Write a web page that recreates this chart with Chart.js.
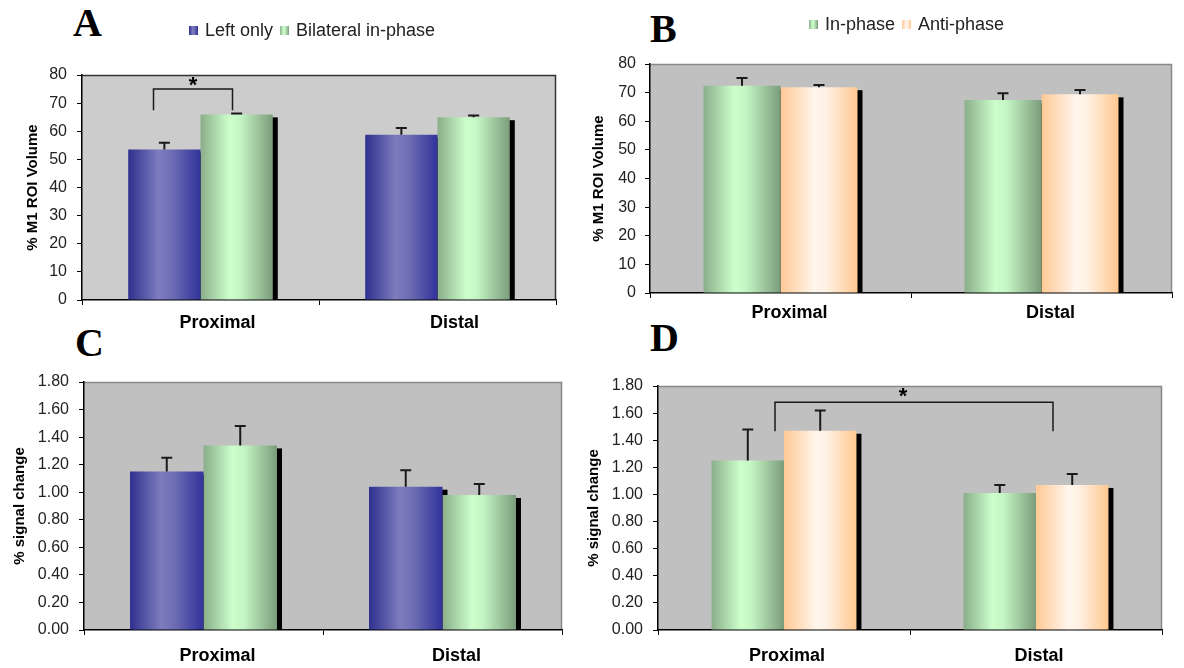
<!DOCTYPE html>
<html><head><meta charset="utf-8">
<script src="https://cdn.jsdelivr.net/npm/chart.js@4.4.1/dist/chart.umd.min.js"></script>
<style>
html,body{margin:0;padding:0;background:#fff;}
body{width:1184px;height:668px;position:relative;overflow:hidden;}
canvas{position:absolute;}
.letter{position:absolute;font-family:"Liberation Serif","DejaVu Serif",serif;font-weight:bold;font-size:40px;line-height:40px;color:#000;}
</style></head><body>
<div class="letter" style="left:73px;top:3px">A</div>
<div class="letter" style="left:650px;top:9px">B</div>
<div class="letter" style="left:75px;top:323px">C</div>
<div class="letter" style="left:650px;top:318px">D</div>
<canvas id="cA" width="592" height="334" style="left:0;top:0"></canvas>
<canvas id="cB" width="604" height="334" style="left:580px;top:0"></canvas>
<canvas id="cC" width="592" height="334" style="left:0;top:334px"></canvas>
<canvas id="cD" width="604" height="334" style="left:580px;top:334px"></canvas>
<script>
// ---- data ----
const categories = ['Proximal', 'Distal'];
const volumeTickLabels = ['0','10','20','30','40','50','60','70','80'];
const signalTickLabels = ['0.00','0.20','0.40','0.60','0.80','1.00','1.20','1.40','1.60','1.80'];
const volumeAxisTitle = '% M1 ROI Volume';
const signalAxisTitle = '% signal change';

const leftOnlyVolume = [53.5, 58.8];
const leftOnlyVolumeErr = [2.4, 2.4];
const bilateralVolume = [66.0, 65.0];
const bilateralVolumeErr = [0.3, 0.6];

const inPhaseVolume = [72.4, 67.4];
const inPhaseVolumeErr = [2.7, 2.4];
const antiPhaseVolume = [71.9, 69.4];
const antiPhaseVolumeErr = [0.8, 1.5];

const leftOnlySignal = [1.15, 1.04];
const leftOnlySignalErr = [0.10, 0.12];
const bilateralSignal = [1.34, 0.98];
const bilateralSignalErr = [0.14, 0.08];

const inPhaseSignal = [1.25, 1.01];
const inPhaseSignalErr = [0.23, 0.06];
const antiPhaseSignal = [1.47, 1.07];
const antiPhaseSignalErr = [0.15, 0.08];

// ---- styles ----
const GRAD = {
  blue:   [[0,'#30308f'],[0.42,'#7c7cbf'],[0.6,'#6e6eb5'],[1,'#32329a']],
  green:  [[0,'#8aae8a'],[0.4,'#ccffcc'],[0.55,'#c4f5c4'],[1,'#7b9c7b']],
  orange: [[0,'#ffc995'],[0.45,'#fff6ee'],[0.6,'#fff0e2'],[1,'#ffc890']]
};
const FONT = '"Liberation Sans", Arial, sans-serif';

function barGradient(c, stops, catPct) {
  const chart = c.chart, xs = chart.scales.x;
  if (c.type !== 'data' || !xs || !chart.chartArea) return stops[1][1];
  const n = chart.data.labels.length;
  const catW = (xs.right - xs.left) / n;
  const groupW = catW * catPct;
  const barW = groupW / chart.data.datasets.length;
  const center = xs.getPixelForValue(c.dataIndex);
  const left = center - groupW / 2 + c.datasetIndex * barW;
  const g = chart.ctx.createLinearGradient(left, 0, left + barW, 0);
  stops.forEach(([p, col]) => g.addColorStop(p, col));
  return g;
}

const panelCfg = {};

const panelPlugin = {
  id: 'panelDeco',
  beforeDraw(chart) {
    const cfg = panelCfg[chart.canvas.id];
    const {ctx, chartArea: a} = chart;
    ctx.save();
    ctx.fillStyle = cfg.bg;
    ctx.fillRect(a.left, a.top, a.right - a.left, a.bottom - a.top);
    ctx.strokeStyle = cfg.frame; ctx.lineWidth = 1.5;
    ctx.beginPath();
    ctx.moveTo(a.left, a.top + 0.5); ctx.lineTo(a.right - 0.5, a.top + 0.5); ctx.lineTo(a.right - 0.5, a.bottom);
    ctx.stroke();
    ctx.restore();
  },
  beforeDatasetsDraw(chart) {
    const {ctx, chartArea: a} = chart;
    ctx.save();
    ctx.beginPath(); ctx.rect(a.left, a.top, a.right - a.left, a.bottom - a.top); ctx.clip();
    ctx.fillStyle = '#000';
    chart.data.datasets.forEach((ds, di) => {
      chart.getDatasetMeta(di).data.forEach(el => {
        const {x, y, base, width} = el.getProps(['x','y','base','width'], true);
        ctx.fillRect(x - width / 2 + 5, y + 3, width, base - y - 3);
      });
    });
    ctx.restore();
  },
  afterDatasetsDraw(chart) {
    const cfg = panelCfg[chart.canvas.id];
    const {ctx} = chart;
    const ys = chart.scales.y, xs = chart.scales.x;
    ctx.save();
    ctx.strokeStyle = '#1a1a1a'; ctx.lineWidth = 2;
    chart.data.datasets.forEach((ds, di) => {
      chart.getDatasetMeta(di).data.forEach((el, i) => {
        const {x, y} = el.getProps(['x','y'], true);
        const top = ys.getPixelForValue(ds.data[i] + ds.errors[i]);
        ctx.beginPath();
        ctx.moveTo(x, y); ctx.lineTo(x, top);
        ctx.moveTo(x - 5.5, top); ctx.lineTo(x + 5.5, top);
        ctx.stroke();
      });
    });
    if (cfg.bracket) {
      const b = cfg.bracket;
      const x1 = xs.getPixelForValue(b.cat1) + b.dx1;
      const x2 = xs.getPixelForValue(b.cat2) + b.dx2;
      const yt = ys.getPixelForValue(b.top), yl = ys.getPixelForValue(b.leg);
      ctx.lineWidth = 1.5;
      ctx.beginPath();
      ctx.moveTo(x1, yl); ctx.lineTo(x1, yt); ctx.lineTo(x2, yt); ctx.lineTo(x2, yl);
      ctx.stroke();
      ctx.fillStyle = '#000';
      ctx.font = 'bold 22px ' + FONT;
      ctx.textAlign = 'center'; ctx.textBaseline = 'alphabetic';
      ctx.fillText('*', (x1 + x2) / 2 + b.starDx, ys.getPixelForValue(b.star) + 12);
    }
    ctx.restore();
  },
  afterDraw(chart) {
    const cfg = panelCfg[chart.canvas.id];
    if (!cfg.legend) return;
    const {ctx} = chart;
    ctx.save();
    ctx.font = '18px ' + FONT;
    ctx.textBaseline = 'middle'; ctx.textAlign = 'left';
    let x = cfg.legend.x; const y = cfg.legend.y;
    chart.data.datasets.forEach(ds => {
      const g = ctx.createLinearGradient(x, 0, x + 9, 0);
      ds.grad.forEach(([p, col]) => g.addColorStop(p, col));
      ctx.fillStyle = g;
      ctx.fillRect(x, y - 4, 9, 9);
      x += 16;
      ctx.fillStyle = '#222';
      ctx.fillText(ds.label, x, y + 1);
      x += ctx.measureText(ds.label).width + 7;
    });
    ctx.restore();
  }
};

function makeChart(cfg) {
  panelCfg[cfg.id] = cfg;
  return new Chart(document.getElementById(cfg.id), {
    type: 'bar',
    data: {
      labels: categories,
      datasets: cfg.series.map(s => ({
        label: s.label, data: s.data, errors: s.err, grad: s.grad,
        backgroundColor: (c) => barGradient(c, s.grad, cfg.catPct),
        borderWidth: 0, categoryPercentage: cfg.catPct, barPercentage: 1
      }))
    },
    options: {
      responsive: false, animation: false, events: [],
      layout: { padding: { left: 0, right: cfg.padR, top: cfg.padT, bottom: 0 } },
      plugins: { legend: { display: false }, tooltip: { enabled: false } },
      scales: {
        x: {
          offset: true,
          grid: { offset: true, drawOnChartArea: false, drawTicks: true, tickLength: 5, color: '#000', lineWidth: 1 },
          border: { display: true, color: '#000', width: 1.5 },
          ticks: { padding: cfg.xPad, labelOffset: cfg.labelOff, color: '#000', maxRotation: 0,
                   font: { family: FONT, size: 18, weight: 'bold' } },
          afterFit: s => { s.height = cfg.xH; }
        },
        y: {
          min: 0, max: cfg.max,
          ticks: { stepSize: cfg.step, padding: cfg.yPad, color: '#222',
                   font: { family: FONT, size: 16 },
                   callback: (v, i) => cfg.tickLabels[i] },
          grid: { drawOnChartArea: false, drawTicks: true, tickLength: 5, color: '#000', lineWidth: 1 },
          border: { display: true, color: '#000', width: 1.5 },
          title: { display: true, text: cfg.yTitle, color: '#000',
                   font: { family: FONT, size: 15, weight: 'bold' },
                   padding: { top: cfg.titlePad, bottom: 0 } },
          afterFit: s => { s.width = cfg.yW; }
        }
      }
    },
    plugins: [panelPlugin]
  });
}

makeChart({
  id: 'cA', padT: 75, padR: 36, yW: 82, xH: 34, catPct: 0.61, xPad: 7, labelOff: 17, yPad: 10, titlePad: 24,
  max: 80, step: 10, tickLabels: volumeTickLabels, yTitle: volumeAxisTitle,
  bg: '#cccccc', frame: '#333', legend: { x: 189, y: 30 },
  series: [
    { label: 'Left only', data: leftOnlyVolume, err: leftOnlyVolumeErr, grad: GRAD.blue },
    { label: 'Bilateral in-phase', data: bilateralVolume, err: bilateralVolumeErr, grad: GRAD.green }
  ],
  bracket: { cat1: 0, dx1: -47, cat2: 0, dx2: 32, top: 75, leg: 67.5, star: 78.2, starDx: 0 }
});

makeChart({
  id: 'cB', padT: 64, padR: 12, yW: 70, xH: 41, catPct: 0.59, xPad: 4, labelOff: 9, yPad: 9, titlePad: 10,
  max: 80, step: 10, tickLabels: volumeTickLabels, yTitle: volumeAxisTitle,
  bg: '#c0c0c0', frame: '#888', legend: { x: 229, y: 24 },
  series: [
    { label: 'In-phase', data: inPhaseVolume, err: inPhaseVolumeErr, grad: GRAD.green },
    { label: 'Anti-phase', data: antiPhaseVolume, err: antiPhaseVolumeErr, grad: GRAD.orange }
  ]
});

makeChart({
  id: 'cC', padT: 48, padR: 30, yW: 84, xH: 38, catPct: 0.615, xPad: 10, labelOff: 14, yPad: 10, titlePad: 11,
  max: 1.8, step: 0.2, tickLabels: signalTickLabels, yTitle: signalAxisTitle,
  bg: '#c0c0c0', frame: '#888', legend: null,
  series: [
    { label: 'Left only', data: leftOnlySignal, err: leftOnlySignalErr, grad: GRAD.blue },
    { label: 'Bilateral in-phase', data: bilateralSignal, err: bilateralSignalErr, grad: GRAD.green }
  ]
});

makeChart({
  id: 'cD', padT: 52, padR: 22, yW: 78, xH: 38, catPct: 0.575, xPad: 10, labelOff: 3, yPad: 10, titlePad: 5,
  max: 1.8, step: 0.2, tickLabels: signalTickLabels, yTitle: signalAxisTitle,
  bg: '#c0c0c0', frame: '#888', legend: null,
  series: [
    { label: 'In-phase', data: inPhaseSignal, err: inPhaseSignalErr, grad: GRAD.green },
    { label: 'Anti-phase', data: antiPhaseSignal, err: antiPhaseSignalErr, grad: GRAD.orange }
  ],
  bracket: { cat1: 0, dx1: -9, cat2: 1, dx2: 17, top: 1.68, leg: 1.467, star: 1.76, starDx: -11 }
});
</script>
</body></html>
